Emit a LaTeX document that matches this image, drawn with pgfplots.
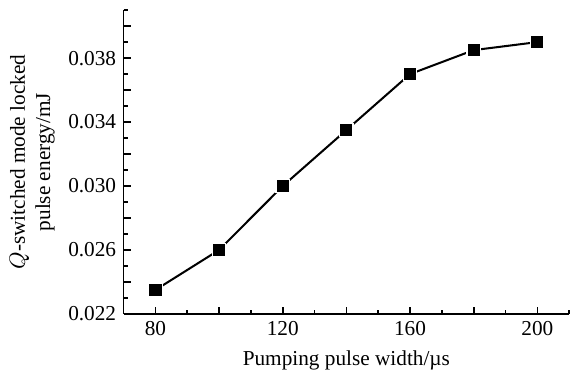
\documentclass[border=0pt]{standalone}
\usepackage{fontspec}
\setmainfont{Liberation Serif}
\usepackage{pgfplots}
\pgfplotsset{compat=1.18}
\begin{document}
\fontsize{10.5}{12.5}\selectfont
\begin{tikzpicture}
\begin{axis}[
  scale only axis, width=220pt, height=150pt,
  xmin=70, xmax=210, ymin=0.022, ymax=0.041,
  axis lines=left, axis line style={-, line width=0.8pt},
  scaled y ticks=false,
  xtick={80,100,...,200},
  xticklabels={80,,120,,160,,200},
  minor xtick={90,110,...,210},
  ytick={0.022,0.024,...,0.0405},
  yticklabels={0.022,,0.026,,0.030,,0.034,,0.038,},
  minor ytick={0.023,0.025,...,0.0415},
  tick align=inside,
  major tick length=3.5pt, minor tick length=2pt,
  tick style={black, line width=0.8pt},
  /pgf/number format/assume math mode=true,
  tick label style={font=\fontsize{10.5}{12.5}\selectfont},
  xlabel={Pumping pulse width/\textmu s},
  ylabel={\begin{tabular}{c}$Q$-switched mode locked\\pulse energy/mJ\end{tabular}},
  label style={font=\fontsize{10.5}{12.5}\selectfont},
  xlabel style={yshift=0pt},
  ylabel style={yshift=-2pt},
  clip=false,
]
\addplot[black, line width=1pt, mark=square*, mark size=3.3pt,
  mark options={fill=black, draw=white, line width=0.6pt}]
  coordinates {(80,0.0235) (100,0.026) (120,0.030) (140,0.0335) (160,0.037) (180,0.0385) (200,0.039)};
\end{axis}
\path ([yshift=5pt]current axis.north);
\path ([yshift=-3pt]current axis.south);
\end{tikzpicture}
\end{document}
